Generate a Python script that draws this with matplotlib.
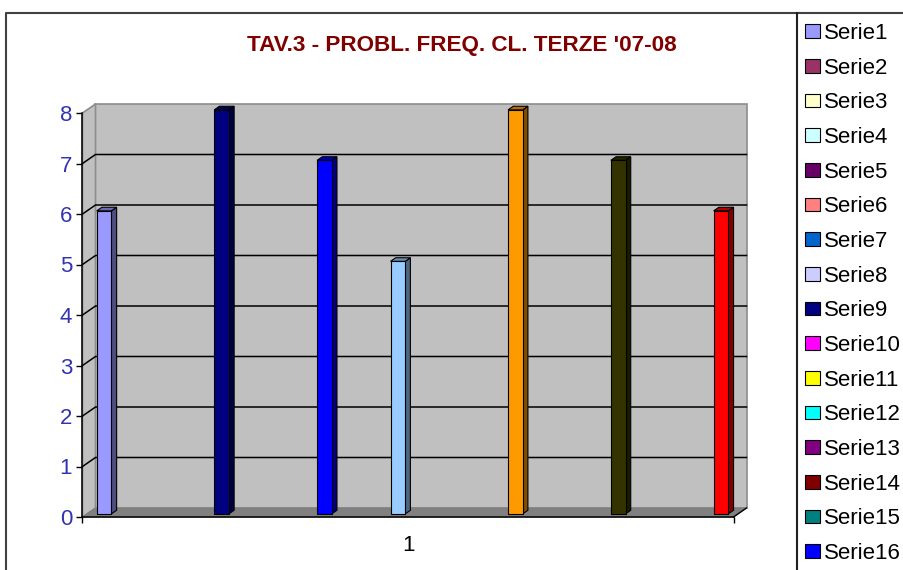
import matplotlib.pyplot as plt
from matplotlib.patches import Polygon, Patch
from matplotlib.lines import Line2D
import matplotlib.colors as mcolors
import numpy as np

plt.rcParams['font.family'] = ['Liberation Sans', 'DejaVu Sans']

title = "TAV.3 - PROBL. FREQ. CL. TERZE '07-08"
category = '1'
series = ['Serie%d' % i for i in range(1, 44)]
values = [6, 0, 0, 0, 0, 0, 0, 0,
          8, 0, 0, 0, 0, 0, 0, 7,
          0, 0, 0, 0, 5, 0, 0, 0,
          0, 0, 0, 0, 8, 0, 0, 0,
          0, 0, 0, 7, 0, 0, 0, 0,
          0, 0, 6]
colors = ['#9999FF', '#993366', '#FFFFCC', '#CCFFFF', '#660066', '#FF8080', '#0066CC', '#CCCCFF',
          '#000080', '#FF00FF', '#FFFF00', '#00FFFF', '#800080', '#800000', '#008080', '#0000FF',
          '#00CCFF', '#CCFFFF', '#CCFFCC', '#FFFF99', '#99CCFF', '#FF99CC', '#CC99FF', '#FFCC99',
          '#3366FF', '#33CCCC', '#99CC00', '#FFCC00', '#FF9900', '#FF6600', '#666699', '#969696',
          '#003366', '#339966', '#003300', '#333300', '#993300', '#993366', '#333399', '#333333',
          '#000000', '#FFFFFF', '#FF0000']
n_legend = 16   # the legend box is cut off after Serie16

W, H = 904, 570
fig = plt.figure(figsize=(W / 100, H / 100), dpi=100)

# front plane of the 3d box, in pixels
px_l, px_r, px_b, px_t = 82.5, 733.5, 517, 113
ax = fig.add_axes([px_l / W, 1 - px_b / H, (px_r - px_l) / W, (px_b - px_t) / H])
ax.patch.set_visible(False)

xmin, xmax = -0.66, len(series) + 0.66
ymax = 8
ax.set_xlim(xmin, xmax)
ax.set_ylim(0, ymax)

# depth offset of the back wall in data units (13 px right, 9 px up)
DX = 13 / ((px_r - px_l) / (xmax - xmin))
DY = 9 / ((px_b - px_t) / ymax)

wall = '#C0C0C0'
edge = '#8C8C8C'
# back wall, side wall, floor
ax.add_patch(Polygon([(xmin + DX, DY), (xmax + DX, DY), (xmax + DX, ymax + DY), (xmin + DX, ymax + DY)],
                     closed=True, fc=wall, ec=edge, lw=1.2, clip_on=False, zorder=1))
ax.add_patch(Polygon([(xmin, 0), (xmin + DX, DY), (xmin + DX, ymax + DY), (xmin, ymax)],
                     closed=True, fc=wall, ec=edge, lw=1.2, clip_on=False, zorder=1))
ax.add_patch(Polygon([(xmin, 0), (xmax, 0), (xmax + DX, DY), (xmin + DX, DY)],
                     closed=True, fc='#808080', ec='#808080', lw=0.8, clip_on=False, zorder=1))

for k in range(1, ymax):
    ax.plot([xmin, xmin + DX, xmax + DX], [k, k + DY, k + DY], color='black', lw=1.1,
            clip_on=False, zorder=2)
# little diagonal at the floor corner
ax.plot([xmax, xmax + DX], [0, DY], color='black', lw=1, clip_on=False, zorder=2)

# bars: front face at depth d0, back at d1
d0, d1 = 0.35, 0.75
x = np.arange(len(series))
v = np.array(values, dtype=float)
show = v > 0
ax.bar(x[show] + d0 * DX, v[show], width=1, bottom=d0 * DY, align='edge',
       color=[colors[i] for i in x[show]], edgecolor='black', linewidth=0.8, zorder=4, clip_on=False)
for i in x[show]:
    c = np.array(mcolors.to_rgb(colors[i]))
    h = values[i]
    side = [(i + 1 + d0 * DX, d0 * DY), (i + 1 + d1 * DX, d1 * DY),
            (i + 1 + d1 * DX, h + d1 * DY), (i + 1 + d0 * DX, h + d0 * DY)]
    top = [(i + d0 * DX, h + d0 * DY), (i + 1 + d0 * DX, h + d0 * DY),
           (i + 1 + d1 * DX, h + d1 * DY), (i + d1 * DX, h + d1 * DY)]
    ax.add_patch(Polygon(side, closed=True, fc=c * 0.5, ec='black', lw=0.8, zorder=3, clip_on=False))
    ax.add_patch(Polygon(top, closed=True, fc=c * 0.7, ec='black', lw=0.8, zorder=3, clip_on=False))

# axes
for s in ['top', 'right']:
    ax.spines[s].set_visible(False)
for s in ['left', 'bottom']:
    ax.spines[s].set_color('black')
    ax.spines[s].set_linewidth(1.1)
    ax.spines[s].set_zorder(5)

ax.set_yticks(range(0, ymax + 1))
ax.tick_params(axis='y', length=4, width=1, pad=3.5, labelsize=16, labelcolor='#3333B0')
ax.set_xticks([(xmin + xmax) / 2], [category])
ax.set_xticks([xmin, xmax], minor=True)
ax.tick_params(axis='x', which='major', length=0, pad=13, labelsize=16)
ax.tick_params(axis='x', which='minor', length=4, width=1)

fig.text(462 / W, 1 - 46 / H, title, ha='center', va='center', color='#800000',
         fontsize=16.2, fontweight='bold')

# chart area border and legend box
fig.add_artist(Line2D([6.5 / W, 6.5 / W, 1], [0, 1 - 13 / H, 1 - 13 / H], color='#404040', lw=1.5))
fig.add_artist(Line2D([797.5 / W, 797.5 / W], [0, 1 - 13 / H], color='#202020', lw=1.5))

handles = [Patch(fc=colors[i], ec='black', lw=0.8) for i in range(n_legend)]
fig.legend(handles, series[:n_legend], loc='upper left',
           bbox_to_anchor=(805 / W, 1 - 23 / H), frameon=False, fontsize=16,
           handlelength=0.68, handleheight=0.58, handletextpad=0.16,
           labelspacing=0.615, borderpad=0, borderaxespad=0)

fig.savefig('out.png', dpi=100)
